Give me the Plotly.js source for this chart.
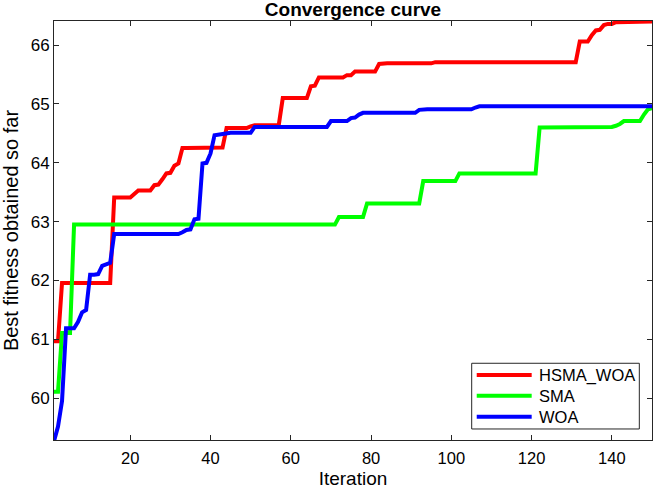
<!DOCTYPE html>
<html>
<head>
<meta charset="utf-8">
<script src="https://cdn.plot.ly/plotly-3.0.1.min.js"></script>
<style>
html,body{margin:0;padding:0;background:#fff;}
#chart{width:654px;height:489px;}
</style>
</head>
<body>
<div id="chart"></div>
<script>
// Series names
const seriesNames = ["HSMA_WOA", "SMA", "WOA"];
const seriesColors = ["#ff0000", "#00ff00", "#0000ff"];

// HSMA_WOA best fitness per iteration (1..150)
const hsmaWoa = [
  60.97,60.97,61.96,61.96,61.96,61.96,61.96,61.96,61.96,61.96,
  61.96,61.96,61.96,61.96,61.96,63.41,63.41,63.41,63.41,63.41,
  63.47,63.53,63.53,63.53,63.53,63.62,63.63,63.72,63.82,63.83,
  63.95,63.99,64.25,64.25,64.25,64.25,64.26,64.26,64.26,64.26,
  64.26,64.26,64.26,64.59,64.59,64.59,64.59,64.59,64.59,64.62,
  64.64,64.64,64.64,64.64,64.64,64.64,64.64,65.10,65.10,65.10,
  65.10,65.10,65.10,65.10,65.30,65.31,65.45,65.45,65.45,65.45,
  65.45,65.45,65.45,65.49,65.49,65.55,65.55,65.55,65.55,65.55,
  65.55,65.68,65.69,65.69,65.69,65.69,65.69,65.69,65.69,65.69,
  65.69,65.69,65.69,65.69,65.69,65.71,65.71,65.71,65.71,65.71,
  65.71,65.71,65.71,65.71,65.71,65.71,65.71,65.71,65.71,65.71,
  65.71,65.71,65.71,65.71,65.71,65.71,65.71,65.71,65.71,65.71,
  65.71,65.71,65.71,65.71,65.71,65.71,65.71,65.71,65.71,65.71,
  65.71,66.06,66.06,66.06,66.17,66.25,66.26,66.34,66.36,66.36,
  66.39,66.39,66.39,66.39,66.39,66.39,66.39,66.39,66.39,66.40
];

// SMA best fitness per iteration (1..150)
const sma = [
  60.11,60.11,61.11,61.11,61.11,62.95,62.95,62.95,62.95,62.95,
  62.95,62.95,62.95,62.95,62.95,62.95,62.95,62.95,62.95,62.95,
  62.95,62.95,62.95,62.95,62.95,62.95,62.95,62.95,62.95,62.95,
  62.95,62.95,62.95,62.95,62.95,62.95,62.95,62.95,62.95,62.95,
  62.95,62.95,62.95,62.95,62.95,62.95,62.95,62.95,62.95,62.95,
  62.95,62.95,62.95,62.95,62.95,62.95,62.95,62.95,62.95,62.95,
  62.95,62.95,62.95,62.95,62.95,62.95,62.95,62.95,62.95,62.95,
  62.95,63.08,63.08,63.08,63.08,63.08,63.08,63.08,63.31,63.31,
  63.31,63.31,63.31,63.31,63.31,63.31,63.31,63.31,63.31,63.31,
  63.31,63.31,63.69,63.69,63.69,63.69,63.69,63.69,63.69,63.69,
  63.69,63.82,63.82,63.82,63.82,63.82,63.82,63.82,63.82,63.82,
  63.82,63.82,63.82,63.82,63.82,63.82,63.82,63.82,63.82,63.82,
  63.82,64.60,64.60,64.60,64.60,64.60,64.60,64.60,64.60,64.60,
  64.60,64.60,64.60,64.60,64.60,64.60,64.60,64.60,64.60,64.61,
  64.63,64.66,64.71,64.71,64.71,64.71,64.71,64.82,64.91,64.93
];

// WOA best fitness per iteration (1..150)
const woa = [
  59.27,59.52,59.95,61.19,61.19,61.19,61.30,61.46,61.50,62.10,
  62.10,62.11,62.25,62.27,62.30,62.79,62.79,62.79,62.79,62.79,
  62.79,62.79,62.79,62.79,62.79,62.79,62.79,62.79,62.79,62.79,
  62.79,62.79,62.82,62.86,62.87,63.04,63.05,63.99,64.00,64.16,
  64.47,64.48,64.49,64.51,64.51,64.51,64.51,64.51,64.51,64.51,
  64.61,64.61,64.61,64.61,64.61,64.61,64.61,64.61,64.61,64.61,
  64.61,64.61,64.61,64.61,64.61,64.61,64.61,64.61,64.61,64.71,
  64.71,64.71,64.71,64.71,64.76,64.77,64.82,64.85,64.85,64.85,
  64.85,64.85,64.85,64.85,64.85,64.85,64.85,64.85,64.85,64.85,
  64.85,64.90,64.91,64.91,64.91,64.91,64.91,64.91,64.91,64.91,
  64.91,64.91,64.91,64.91,64.91,64.94,64.96,64.96,64.96,64.96,
  64.96,64.96,64.96,64.96,64.96,64.96,64.96,64.96,64.96,64.96,
  64.96,64.96,64.96,64.96,64.96,64.96,64.96,64.96,64.96,64.96,
  64.96,64.96,64.96,64.96,64.96,64.96,64.96,64.96,64.96,64.96,
  64.96,64.96,64.96,64.96,64.96,64.96,64.96,64.96,64.96,64.96
];

// Axis ticks
const xTicks = [20, 40, 60, 80, 100, 120, 140];
const yTicks = [60, 61, 62, 63, 64, 65, 66];

const iterations = hsmaWoa.map((_, i) => i + 1);
const allSeries = [hsmaWoa, sma, woa];

const FONT = "Liberation Sans, Arial, Helvetica, sans-serif";
const AXC = "#262626";

const traces = allSeries.map((ys, k) => ({
  x: iterations, y: ys, name: seriesNames[k], type: "scatter", mode: "lines",
  line: {color: seriesColors[k], width: 4}, showlegend: false
}));

// Custom legend box drawn in paper coordinates (MATLAB-style long line samples)
const legBox = {x0: 0.6985, x1: 0.9788, y0: 0.0263, y1: 0.1831};
const legRows = [0.1551, 0.1057, 0.0556];
const legLineX = [0.7069, 0.7988];
const legTextX = 0.8072;

const shapes = [
  {type: "rect", xref: "paper", yref: "paper", x0: legBox.x0, x1: legBox.x1, y0: legBox.y0, y1: legBox.y1,
   line: {color: AXC, width: 1}, fillcolor: "#ffffff", layer: "above"}
].concat(seriesNames.map((n, k) => ({
  type: "line", xref: "paper", yref: "paper", x0: legLineX[0], x1: legLineX[1], y0: legRows[k], y1: legRows[k],
  line: {color: seriesColors[k], width: 4}, layer: "above"
})));

const annotations = seriesNames.map((n, k) => ({
  xref: "paper", yref: "paper", x: legTextX, y: legRows[k], xanchor: "left", yanchor: "middle",
  text: n, showarrow: false, font: {family: FONT, size: 16.5, color: "#000"}
}));

const layout = {
  width: 654, height: 489,
  margin: {l: 54, r: 2, t: 21, b: 49, pad: 0},
  paper_bgcolor: "#ffffff", plot_bgcolor: "#ffffff",
  font: {family: FONT, size: 17, color: AXC},
  title: {text: "<b>Convergence curve</b>", font: {family: FONT, size: 19, color: "#000"},
          xref: "paper", x: 0.5, xanchor: "center", yref: "container", y: 0.994, yanchor: "top",
          pad: {t: 0, b: 0, l: 0, r: 0}},
  xaxis: {
    range: [1, 150], tickvals: xTicks, ticktext: xTicks.map(String),
    ticks: "inside", ticklen: 5, tickwidth: 1, tickcolor: AXC,
    showline: true, linecolor: AXC, linewidth: 1, mirror: "ticks",
    showgrid: false, zeroline: false, ticklabelstandoff: 3,
    tickfont: {family: FONT, size: 16.5, color: "#000"},
    title: {text: "Iteration", font: {family: FONT, size: 19, color: "#000"}, standoff: 7}
  },
  yaxis: {
    range: [59.29, 66.41], tickvals: yTicks, ticktext: yTicks.map(String),
    ticks: "inside", ticklen: 5, tickwidth: 1, tickcolor: AXC,
    showline: true, linecolor: AXC, linewidth: 1, mirror: "ticks",
    showgrid: false, zeroline: false,
    tickfont: {family: FONT, size: 17, color: "#000"},
    title: {text: "Best fitness obtained so far", font: {family: FONT, size: 20, color: "#000"}, standoff: 8}
  },
  showlegend: false,
  shapes: shapes,
  annotations: annotations
};

Plotly.newPlot("chart", traces, layout, {staticPlot: true, displayModeBar: false});
</script>
</body>
</html>
